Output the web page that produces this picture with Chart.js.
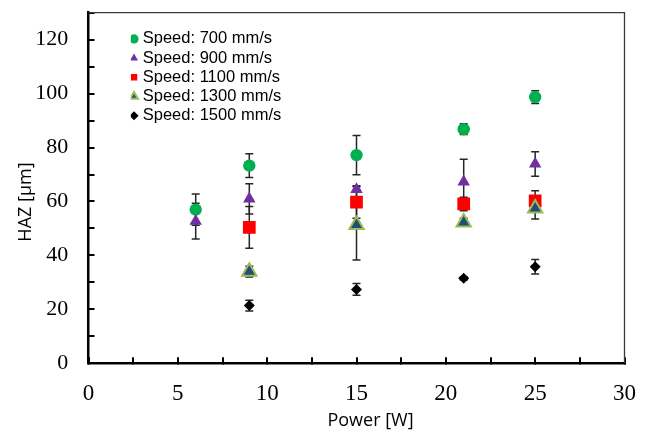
<!DOCTYPE html>
<html>
<head>
<meta charset="utf-8">
<script src="https://cdn.jsdelivr.net/npm/chart.js@4.4.1/dist/chart.umd.min.js"></script>
<style>
  html, body { margin: 0; padding: 0; background: #ffffff; }
  #wrap { width: 648px; height: 432px; }
</style>
</head>
<body>
<div id="wrap"><canvas id="c" width="648" height="432"></canvas></div>
<script>
// ---- data ----
const seriesNames = ['Speed: 700 mm/s', 'Speed: 900 mm/s', 'Speed: 1100 mm/s', 'Speed: 1300 mm/s', 'Speed: 1500 mm/s'];

const power700 = [6, 9, 15, 21, 25];
const haz700   = [57.0, 73.3, 77.2, 86.8, 98.7];
const err700   = [5.8, 4.4, 7.3, 2.0, 2.4];

const power900 = [6, 9, 15, 21, 25];
const haz900   = [52.7, 61.0, 64.5, 67.3, 73.9];
const err900   = [6.6, 5.6, 1.0, 8.4, 4.5];

const power1100 = [9, 15, 21, 25];
const haz1100   = [50.4, 59.8, 59.1, 60.2];
const err1100   = [7.7, 6.0, 2.5, 3.8];

const power1300 = [9, 15, 21, 25];
const haz1300   = [34.0, 51.3, 52.3, 57.5];
const err1300   = [2.0, 13.0, 1.5, 4.0];

const power1500 = [9, 15, 21, 25];
const haz1500   = [21.4, 27.4, 31.5, 35.8];
const err1500   = [2.0, 2.2, 0.6, 2.7];

const xTickLabels = [0, 5, 10, 15, 20, 25, 30];
const yTickLabels = [0, 20, 40, 60, 80, 100, 120];

function pts(xs, ys) { return xs.map((x, i) => ({ x: x, y: ys[i] })); }

// ---- plugins ----
const frame = {
  id: 'frame',
  beforeDatasetsDraw(chart) {
    const a = chart.chartArea, ctx = chart.ctx;
    ctx.save();
    ctx.strokeStyle = '#3a3a3a';
    ctx.lineWidth = 1.3;
    ctx.beginPath();
    ctx.moveTo(a.left, a.top); ctx.lineTo(a.right, a.top); ctx.lineTo(a.right, a.bottom);
    ctx.stroke();
    ctx.restore();
  }
};

const errorBars = {
  id: 'errorBars',
  beforeDatasetsDraw(chart) {
    const xs = chart.scales.x, ys = chart.scales.y;
    const ctx = chart.ctx;
    ctx.save();
    ctx.strokeStyle = '#262626';
    ctx.lineWidth = 1.5;
    chart.data.datasets.forEach((ds) => {
      if (!ds.errors) return;
      ds.data.forEach((p, i) => {
        const e = ds.errors[i];
        const px = xs.getPixelForValue(p.x);
        const t = ys.getPixelForValue(p.y + e);
        const b = ys.getPixelForValue(p.y - e);
        ctx.beginPath();
        ctx.moveTo(px, t); ctx.lineTo(px, b);
        ctx.moveTo(px - 4, t); ctx.lineTo(px + 4, t);
        ctx.moveTo(px - 4, b); ctx.lineTo(px + 4, b);
        ctx.stroke();
      });
    });
    ctx.restore();
  }
};

const legendPlace = {
  id: 'legendPlace',
  afterLayout(chart) {
    const lg = chart.legend;
    if (lg) { lg.left = 130.8; lg.top = 28; }
  }
};

const onList = (list, v) => list.some(t => Math.abs(t - v) < 1e-6);

new Chart(document.getElementById('c'), {
  type: 'scatter',
  data: {
    datasets: [
      { label: seriesNames[0], data: pts(power700, haz700), errors: err700, order: 0,
        pointStyle: 'circle', pointRadius: 6.2, backgroundColor: '#00B050', borderColor: '#00B050', borderWidth: 0 },
      { label: seriesNames[1], data: pts(power900, haz900), errors: err900, order: -1,
        pointStyle: 'triangle', pointRadius: 7.2, backgroundColor: '#7030A0', borderColor: '#7030A0', borderWidth: 0 },
      { label: seriesNames[2], data: pts(power1100, haz1100), errors: err1100, order: -2,
        pointStyle: 'rect', pointRadius: 9, backgroundColor: '#FF0000', borderColor: '#FF0000', borderWidth: 0 },
      { label: seriesNames[3], data: pts(power1300, haz1300), errors: err1300, order: -3,
        pointStyle: 'triangle', pointRadius: 8.3, backgroundColor: '#1F4E79', borderColor: '#9BBB59', borderWidth: 2 },
      { label: seriesNames[4], data: pts(power1500, haz1500), errors: err1500, order: -4,
        pointStyle: 'rectRot', pointRadius: 5.5, backgroundColor: '#000000', borderColor: '#000000', borderWidth: 0 }
    ]
  },
  options: {
    responsive: false,
    animation: false,
    events: [],
    layout: { padding: { top: 12.7, right: 23.5, left: 0, bottom: 0 } },
    plugins: {
      tooltip: { enabled: false },
      legend: {
        position: 'chartArea',
        align: 'start',
        labels: {
          usePointStyle: true,
          boxWidth: 1,
          boxHeight: 6.5,
          padding: 2.7,
          color: '#000000',
          font: { family: 'Liberation Sans', size: 16.5 },
          sort: (a, b) => a.datasetIndex - b.datasetIndex
        }
      }
    },
    scales: {
      x: {
        type: 'linear',
        min: 0, max: 30,
        afterFit(s) { s.height = 68.7; s.paddingLeft = 0; s.paddingRight = 0; },
        border: { display: true, color: '#000000', width: 2.5 },
        grid: { drawOnChartArea: false, drawTicks: true, tickLength: -6, color: '#000000', lineWidth: 2 },
        ticks: {
          stepSize: 2.5, autoSkip: false, maxRotation: 0, padding: 23,
          color: '#000000',
          font: { family: 'Liberation Serif', size: 23 },
          callback: (v) => onList(xTickLabels, v) ? String(v) : ''
        },
        title: {
          display: true, text: '      Power [W]', color: '#000000',
          font: { family: 'Open Sans', size: 18 },
          padding: { top: 0, bottom: 0 }
        }
      },
      y: {
        type: 'linear',
        min: 0, max: 130,
        afterFit(s) { s.width = 88.5; s.paddingTop = 0; s.paddingBottom = 0; },
        border: { display: true, color: '#000000', width: 2.5 },
        grid: { drawOnChartArea: false, drawTicks: true, tickLength: -6, color: '#000000', lineWidth: 2 },
        ticks: {
          stepSize: 10, autoSkip: false, padding: 26.2,
          color: '#000000',
          font: { family: 'Liberation Serif', size: 22 },
          callback: (v) => onList(yTickLabels, v) ? String(v) : ''
        },
        title: {
          display: true, text: 'HAZ [μm]      ', color: '#000000',
          font: { family: 'Open Sans', size: 18 },
          padding: { top: 15.2, bottom: 0 }
        }
      }
    }
  },
  plugins: [frame, errorBars, legendPlace]
});
</script>
</body>
</html>
